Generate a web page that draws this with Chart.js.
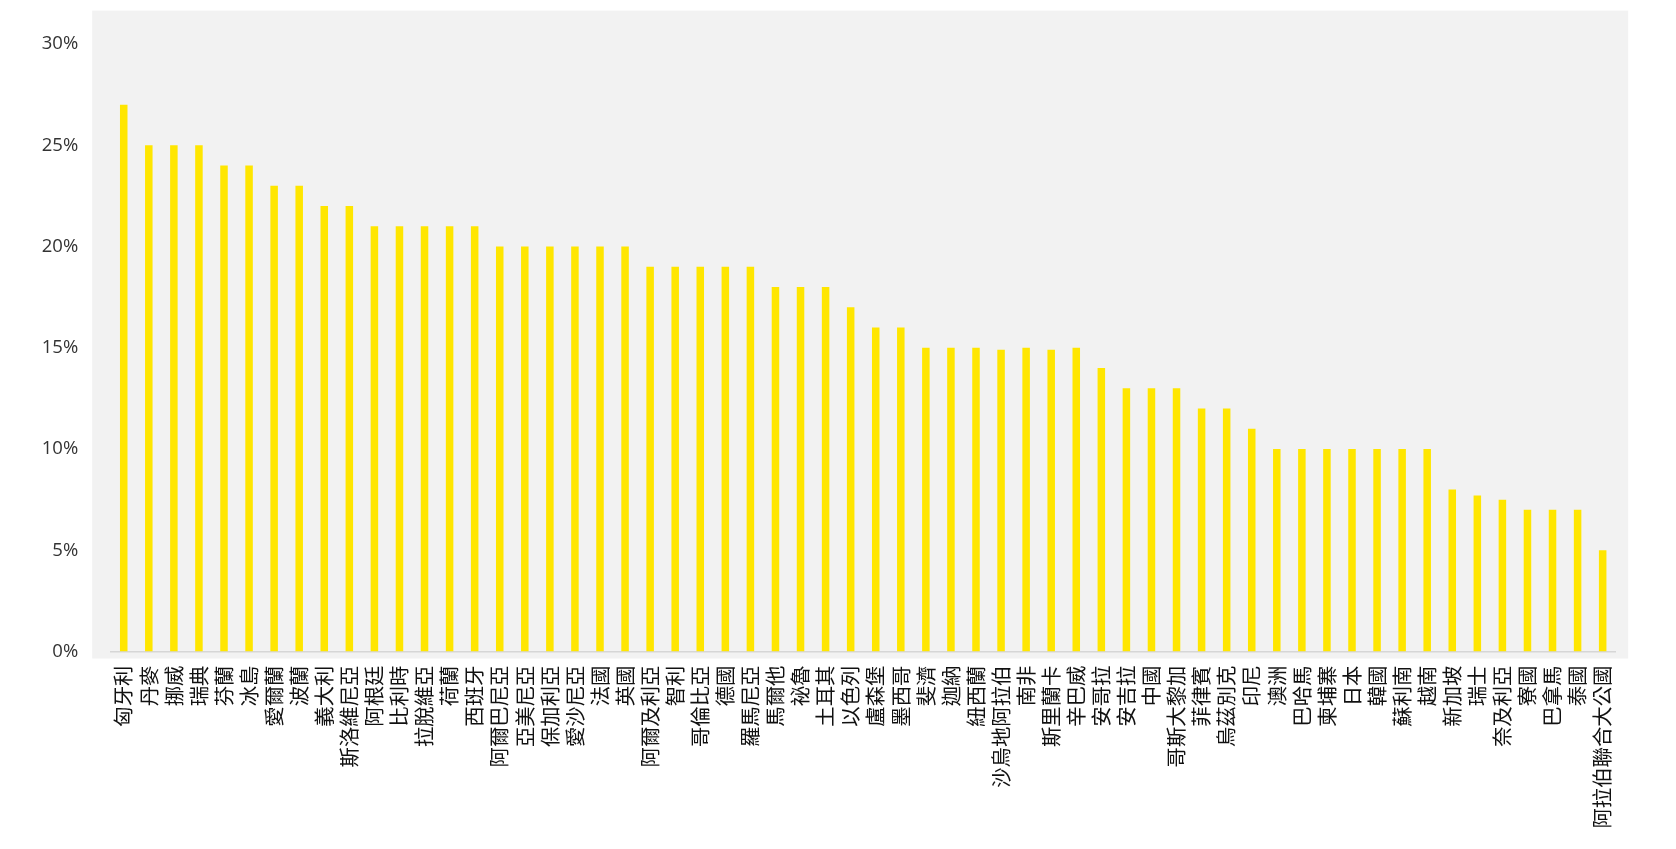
<!DOCTYPE html>
<html>
<head>
<meta charset="utf-8">
<title>Chart</title>
<script src="https://cdn.jsdelivr.net/npm/chart.js@4/dist/chart.umd.min.js"></script>
<style>
  html, body { margin: 0; padding: 0; background: #ffffff; }
  #wrap { width: 1676px; height: 849px; position: relative; }
</style>
</head>
<body>
<div id="wrap"><canvas id="chart"></canvas></div>
<script>
// Categories (countries), in the order shown left to right
var countries = [
  '匈牙利', '丹麥', '挪威', '瑞典', '芬蘭', '冰島', '愛爾蘭', '波蘭', '義大利', '斯洛維尼亞',
  '阿根廷', '比利時', '拉脫維亞', '荷蘭', '西班牙', '阿爾巴尼亞', '亞美尼亞', '保加利亞', '愛沙尼亞', '法國',
  '英國', '阿爾及利亞', '智利', '哥倫比亞', '德國', '羅馬尼亞', '馬爾他', '祕魯', '土耳其', '以色列',
  '盧森堡', '墨西哥', '斐濟', '迦納', '紐西蘭', '沙烏地阿拉伯', '南非', '斯里蘭卡', '辛巴威', '安哥拉',
  '安吉拉', '中國', '哥斯大黎加', '菲律賓', '烏茲別克', '印尼', '澳洲', '巴哈馬', '柬埔寨', '日本',
  '韓國', '蘇利南', '越南', '新加坡', '瑞士', '奈及利亞', '寮國', '巴拿馬', '泰國', '阿拉伯聯合大公國'
];

// Rate in percent, one per country
var rates = [
  27, 25, 25, 25, 24, 24, 23, 23, 22, 22,
  21, 21, 21, 21, 21, 20, 20, 20, 20, 20,
  20, 19, 19, 19, 19, 19, 18, 18, 18, 17,
  16, 16, 15, 15, 15, 14.9, 15, 14.9, 15, 14,
  13, 13, 13, 12, 12, 11, 10, 10, 10, 10,
  10, 10, 10, 8, 7.7, 7.5, 7, 7, 7, 5
];

// Y axis ticks
var yMin = 0;
var yMax = 30;
var yStep = 5;

(function () {
  'use strict';

  var BAR_COLOR = '#ffe600';
  var PLOT_BG = '#f2f2f2';

  // Grey plot backdrop, a little larger than the chart area
  var plotBackground = {
    id: 'plotBackground',
    beforeDraw: function (chart) {
      var ca = chart.chartArea;
      var ctx = chart.ctx;
      var x0 = ca.left - 19, x1 = ca.right + 13;
      var y0 = ca.top - 33.5, y1 = ca.bottom + 7;
      ctx.save();
      ctx.fillStyle = PLOT_BG;
      ctx.fillRect(x0, y0, x1 - x0, y1 - y0);
      ctx.restore();
    }
  };

  new Chart(document.getElementById('chart'), {
    type: 'bar',
    data: {
      labels: countries,
      datasets: [{
        data: rates,
        backgroundColor: BAR_COLOR,
        borderWidth: 0,
        barPercentage: 0.3,
        categoryPercentage: 1.0
      }]
    },
    options: {
      responsive: true,
      maintainAspectRatio: false,
      animation: false,
      layout: { padding: { top: 41.5, right: 60.8, bottom: 0, left: 0 } },
      plugins: {
        legend: { display: false },
        tooltip: { enabled: false }
      },
      scales: {
        x: {
          grid: { display: false, drawTicks: false },
          border: { display: true, color: '#d6d6d6', width: 1.5 },
          ticks: {
            autoSkip: false,
            minRotation: 90,
            maxRotation: 90,
            padding: 14,
            color: '#111111',
            font: { family: '"Noto Sans CJK TC", "Noto Sans CJK SC", sans-serif', size: 20.4 }
          },
          afterFit: function (scale) { scale.height = 197.5; }
        },
        y: {
          min: yMin,
          max: yMax,
          grid: { display: false, drawTicks: false },
          border: { display: false },
          ticks: {
            stepSize: yStep,
            padding: 33,
            color: '#333333',
            font: { family: '"Open Sans", "Noto Sans", sans-serif', size: 18.5, weight: '400' },
            callback: function (v) { return v + '%'; }
          },
          afterFit: function (scale) { scale.width = 111.2; }
        }
      }
    },
    plugins: [plotBackground]
  });
})();
</script>
</body>
</html>
